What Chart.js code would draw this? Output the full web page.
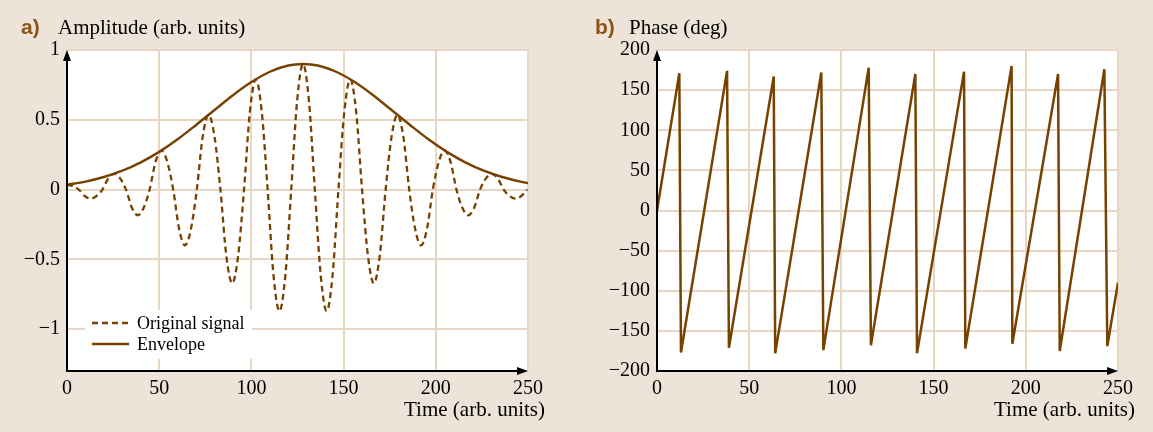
<!DOCTYPE html>
<html><head><meta charset="utf-8">
<script src="https://cdn.jsdelivr.net/npm/chart.js@4/dist/chart.umd.min.js"></script>
<style>
html,body{margin:0;padding:0;background:#ede3d8;width:1153px;height:432px;overflow:hidden}
#wrap{position:relative;width:1153px;height:432px}
.pane{position:absolute;top:0;height:432px}
</style></head><body>
<div id="wrap">
<div class="pane" style="left:0;width:576px"><canvas id="ca" width="576" height="432" style="width:576px;height:432px"></canvas></div>
<div class="pane" style="left:576px;width:577px"><canvas id="cb" width="577" height="432" style="width:577px;height:432px"></canvas></div>
</div>
<script>
// ---- data ----
const timeTicks = [0, 50, 100, 150, 200, 250];
const amplitudeTicks = [-1, -0.5, 0, 0.5, 1];
const phaseTicks = [-200, -150, -100, -50, 0, 50, 100, 150, 200];

const signalTime = [0, 3.2, 6.4, 9.6, 12.8, 16, 19.2, 22.4, 25.6, 28.8, 32, 35.2, 38.4, 41.6, 44.8, 48, 51.2, 54.4, 57.6, 60.8, 64, 67.2, 70.4, 73.6, 76.8, 80, 83.2, 86.4, 89.6, 92.8, 96, 99.2, 102.4, 105.6, 108.8, 112, 115.2, 118.4, 121.6, 124.8, 128, 131.2, 134.4, 137.6, 140.8, 144, 147.2, 150.4, 153.6, 156.8, 160, 163.2, 166.4, 169.6, 172.8, 176, 179.2, 182.4, 185.6, 188.8, 192, 195.2, 198.4, 201.6, 204.8, 208, 211.2, 214.4, 217.6, 220.8, 224, 227.2, 230.4, 233.6, 236.8, 240, 243.2, 246.4, 249.6];
const signalValue = [0.035, 0.025, 0, -0.046, -0.065, -0.046, 0, 0.08, 0.113, 0.08, 0, -0.13, -0.184, -0.13, 0, 0.198, 0.28, 0.198, 0, -0.283, -0.40, -0.283, 0, 0.379, 0.536, 0.379, 0, -0.475, -0.672, -0.475, 0, 0.559, 0.79, 0.559, 0, -0.616, -0.871, -0.616, 0, 0.636, 0.9, 0.636, 0, -0.616, -0.871, -0.616, 0, 0.559, 0.79, 0.559, 0, -0.475, -0.672, -0.475, 0, 0.379, 0.536, 0.379, 0, -0.283, -0.40, -0.283, 0, 0.198, 0.28, 0.198, 0, -0.13, -0.184, -0.13, 0, 0.08, 0.113, 0.08, 0, -0.046, -0.065, -0.046, 0];

const envelopeTime = [0, 10, 20, 30, 40, 50, 60, 70, 80, 90, 100, 110, 120, 128, 136, 146, 156, 166, 176, 186, 196, 206, 216, 226, 236, 246, 250];
const envelopeValue = [0.035, 0.057, 0.09, 0.135, 0.195, 0.27, 0.36, 0.463, 0.57, 0.676, 0.77, 0.844, 0.889, 0.9, 0.889, 0.844, 0.77, 0.676, 0.57, 0.463, 0.36, 0.27, 0.195, 0.135, 0.09, 0.057, 0.047];

const phaseTime = [0, 12.1, 13.0, 38, 39, 63.3, 64.1, 89.1, 90.2, 114.8, 116, 140.1, 141, 166.5, 167.2, 192.3, 192.7, 217.5, 218.4, 242.6, 244.2, 250];
const phaseValue = [0, 171, -177, 174, -171, 167, -178, 172, -174, 178, -168, 170, -178, 173, -172, 180, -166, 170, -175, 176, -169, -90];

// ---- styling ----
const BROWN = '#774200';
const LABEL_BROWN = '#8a5416';
const GRID = '#e6d6c3';
const SERIF = '"Liberation Serif", "Times New Roman", serif';

function pts(xs, ys) { return xs.map((x, i) => ({ x: x, y: ys[i] })); }
function fmt(v) { return String(v).replace('-', '\u2212'); }

function decor(o) {
  return {
    id: 'decor',
    beforeDraw(c) {
      const a = c.chartArea, x = c.ctx;
      x.save(); x.fillStyle = '#ffffff';
      x.fillRect(a.left, a.top, a.right - a.left, a.bottom - a.top);
      x.restore();
    },
    afterDatasetsDraw(c) {
      const a = c.chartArea, x = c.ctx;
      x.save();
      // axes
      x.strokeStyle = '#000'; x.fillStyle = '#000'; x.lineWidth = 2;
      x.beginPath();
      x.moveTo(a.left, a.bottom); x.lineTo(a.left, a.top + 8);
      x.moveTo(a.left - 1, a.bottom); x.lineTo(a.right - 8, a.bottom);
      x.stroke();
      x.beginPath();
      x.moveTo(a.left, a.top); x.lineTo(a.left - 4, a.top + 11); x.lineTo(a.left + 4, a.top + 11); x.closePath(); x.fill();
      x.beginPath();
      x.moveTo(a.right, a.bottom); x.lineTo(a.right - 11, a.bottom - 4); x.lineTo(a.right - 11, a.bottom + 4); x.closePath(); x.fill();
      // panel label
      x.textBaseline = 'alphabetic';
      x.textAlign = 'left';
      x.font = 'bold 21px "Liberation Sans", Arial, sans-serif';
      x.fillStyle = LABEL_BROWN;
      x.fillText(o.tag, o.tagX, 34);
      x.font = '21px ' + SERIF;
      x.fillStyle = '#000';
      x.fillText(o.yTitle, o.yTitleX, 34);
      x.textAlign = 'right';
      x.fillText(o.xTitle, o.xTitleRight, 416);
      // legend
      if (o.legend) {
        const L = o.legend;
        x.fillStyle = '#fff';
        x.fillRect(L.x, L.y, L.w, L.h);
        x.strokeStyle = BROWN; x.lineWidth = 2.3;
        L.items.forEach((it, i) => {
          const yy = L.y + 13 + i * 21;
          x.setLineDash(it.dash);
          x.beginPath(); x.moveTo(L.x + 7, yy); x.lineTo(L.x + 44, yy); x.stroke();
          x.setLineDash([]);
          x.fillStyle = '#000';
          x.font = '18px ' + SERIF;
          x.textAlign = 'left'; x.textBaseline = 'middle';
          x.fillText(it.label, L.x + 52, yy + 1);
        });
      }
      x.restore();
    }
  };
}

function axisX(ticks) {
  return {
    type: 'linear', min: 0, max: 250,
    afterBuildTicks: s => { s.ticks = ticks.map(v => ({ value: v })); },
    afterFit: s => { s.height = 61; },
    grid: { color: GRID, lineWidth: 2, drawTicks: false },
    border: { display: false },
    ticks: { color: '#000', font: { family: SERIF, size: 20 }, padding: 6, maxRotation: 0, autoSkip: false, callback: v => fmt(v) }
  };
}
function axisY(ticks, min, max, w) {
  return {
    type: 'linear', min: min, max: max,
    afterBuildTicks: s => { s.ticks = ticks.map(v => ({ value: v })); },
    afterFit: s => { s.width = w; },
    grid: { color: GRID, lineWidth: 2, drawTicks: false },
    border: { display: false },
    ticks: { color: '#000', font: { family: SERIF, size: 20 }, padding: 7, autoSkip: false, callback: v => fmt(v) }
  };
}

const common = {
  responsive: false, animation: false,
  plugins: { legend: { display: false }, tooltip: { enabled: false } },
  elements: { point: { radius: 0 } }
};

new Chart(document.getElementById('ca'), {
  type: 'line',
  data: {
    datasets: [
      { label: 'Original signal', data: pts(signalTime, signalValue), borderColor: BROWN, borderWidth: 2.3, borderDash: [6, 4], cubicInterpolationMode: 'monotone', fill: false },
      { label: 'Envelope', data: pts(envelopeTime, envelopeValue), borderColor: BROWN, borderWidth: 2.4, cubicInterpolationMode: 'monotone', fill: false }
    ]
  },
  options: Object.assign({}, common, {
    layout: { padding: { left: 0, right: 48, top: 50, bottom: 0 } },
    scales: { x: axisX(timeTicks), y: axisY(amplitudeTicks, -1.3, 1, 67) }
  }),
  plugins: [decor({
    tag: 'a)', tagX: 21, yTitle: 'Amplitude (arb. units)', yTitleX: 58,
    xTitle: 'Time (arb. units)', xTitleRight: 545,
    legend: { x: 85, y: 310, w: 167, h: 49, items: [
      { label: 'Original signal', dash: [6, 4] },
      { label: 'Envelope', dash: [] }
    ] }
  })]
});

new Chart(document.getElementById('cb'), {
  type: 'line',
  data: {
    datasets: [
      { label: 'Phase', data: pts(phaseTime, phaseValue), borderColor: BROWN, borderWidth: 2.5, tension: 0, borderJoinStyle: 'bevel', fill: false }
    ]
  },
  options: Object.assign({}, common, {
    layout: { padding: { left: 0, right: 35, top: 50, bottom: 0 } },
    scales: { x: axisX(timeTicks), y: axisY(phaseTicks, -200, 200, 81) }
  }),
  plugins: [decor({
    tag: 'b)', tagX: 19, yTitle: 'Phase (deg)', yTitleX: 53,
    xTitle: 'Time (arb. units)', xTitleRight: 559
  })]
});
</script>
</body></html>
